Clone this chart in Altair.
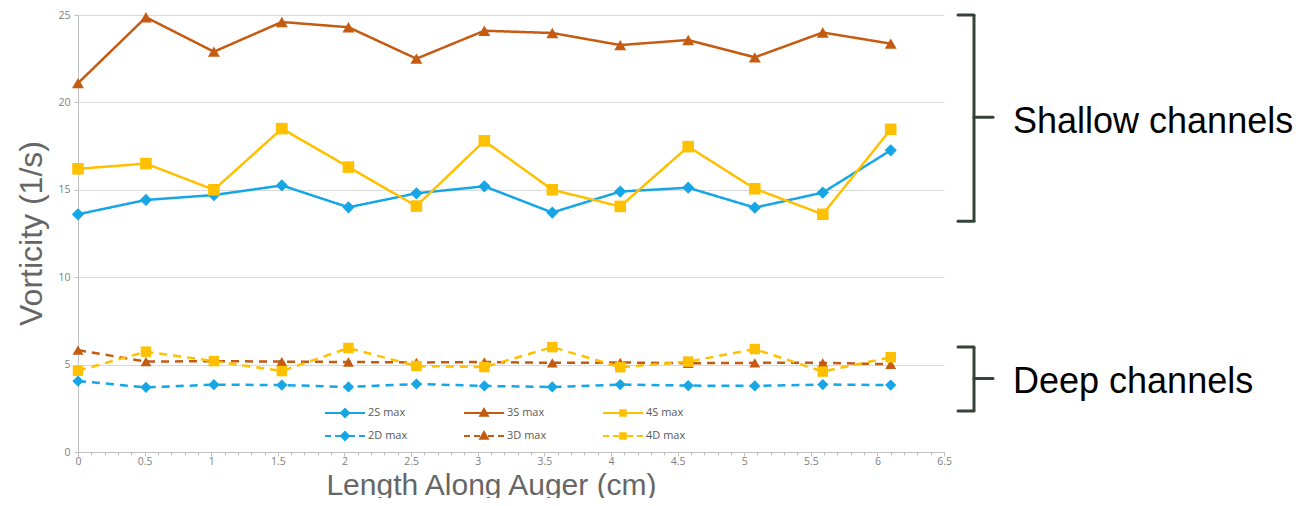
import altair as alt
import pandas as pd

# ---- data ----
x_pos = [0.0, 0.51, 1.02, 1.53, 2.03, 2.54, 3.05, 3.56, 4.07, 4.58, 5.08, 5.59, 6.10]
s2_max = [13.6, 14.42, 14.7, 15.25, 14.0, 14.8, 15.2, 13.7, 14.9, 15.12, 13.98, 14.84, 17.26]
s3_max = [21.1, 24.87, 22.9, 24.6, 24.3, 22.5, 24.1, 23.97, 23.28, 23.57, 22.58, 24.0, 23.36]
s4_max = [16.2, 16.5, 15.0, 18.5, 16.3, 14.07, 17.8, 15.0, 14.05, 17.47, 15.06, 13.6, 18.46]
d2_max = [4.06, 3.7, 3.85, 3.83, 3.72, 3.89, 3.78, 3.72, 3.86, 3.8, 3.78, 3.86, 3.83]
d3_max = [5.83, 5.17, 5.2, 5.17, 5.15, 5.12, 5.15, 5.1, 5.12, 5.08, 5.1, 5.1, 5.02]
d4_max = [4.65, 5.74, 5.2, 4.63, 5.95, 4.92, 4.86, 6.0, 4.85, 5.17, 5.89, 4.6, 5.42]

series_names = ["2S max", "3S max", "4S max", "2D max", "3D max", "4D max"]
series_values = [s2_max, s3_max, s4_max, d2_max, d3_max, d4_max]
series_colors = ["#16A6E6", "#C55A11", "#FFC000", "#16A6E6", "#C55A11", "#FFC000"]
series_dash = [[1, 0], [1, 0], [1, 0], [8, 6], [8, 6], [8, 6]]
series_shapes = ["diamond", "triangle-up", "square", "diamond", "triangle-up", "square"]
series_sizes = [150, 110, 70, 120, 90, 100]

# legend glyphs (line + marker) in Vega's unit symbol box
SOLID = "M-1,0L1,0"
DASHED = "M-1,0L-0.7,0M-0.5,0L-0.2,0M0.2,0L0.5,0M0.7,0L1,0"
DIAMOND = "M0,-0.2L0.2,0L0,0.2L-0.2,0Z"
TRIANGLE = "M0,-0.2L0.19,0.14L-0.19,0.14Z"
SQUARE = "M-0.14,-0.14L0.14,-0.14L0.14,0.14L-0.14,0.14Z"
legend_glyphs = [SOLID + DIAMOND, SOLID + TRIANGLE, SOLID + SQUARE,
                 DASHED + DIAMOND, DASHED + TRIANGLE, DASHED + SQUARE]

x_major = [round(i * 0.5, 1) for i in range(14)]
x_minor = [round(i * 0.1, 1) for i in range(66)]
y_ticks = [0, 5, 10, 15, 20, 25]

# brackets: (top, bottom, middle) in y units; labels with baseline y
brackets = [(25.0, 13.2, 19.15), (6.0, 2.35, 4.2)]
bracket_labels = [("Shallow channels", 18.25), ("Deep channels", 3.37)]

rows = []
for name, vals in zip(series_names, series_values):
    for xv, yv in zip(x_pos, vals):
        rows.append({"x": xv, "y": yv, "series": name})
df = pd.DataFrame(rows)
anno = pd.DataFrame({"k": [0]})

GRID = "#D9D9D9"
LABEL = "#808080"
TITLE = "#666666"

x_scale = alt.Scale(domain=[0, 6.5], nice=False, zero=False)
y_scale = alt.Scale(domain=[0, 25], nice=False)

x_main = alt.X(
    "x:Q",
    scale=x_scale,
    axis=alt.Axis(
        orient="bottom",
        values=x_major,
        format="~g",
        labelOverlap=False,
        labelFlush=False,
        tickSize=4,
        title="Length Along Auger (cm)",
        titleX=413,
        titleY=42,
        titleFontSize=30,
        titleAlign="center",
        titleBaseline="alphabetic",
        labelPadding=0,
    ),
)
y_enc = alt.Y(
    "y:Q",
    scale=y_scale,
    axis=alt.Axis(
        values=y_ticks,
        labelFlush=False,
        tickSize=4,
        labelPadding=4,
        title="Vorticity (1/s)",
        titleX=-37,
        titleY=218,
        titleAlign="center",
        titleBaseline="alphabetic",
    ),
)

lines = alt.Chart(df).mark_line(strokeWidth=2.5).encode(
    x=x_main,
    y=y_enc,
    stroke=alt.Stroke("series:N", scale=alt.Scale(domain=series_names, range=series_colors), legend=None),
    strokeDash=alt.StrokeDash("series:N", scale=alt.Scale(domain=series_names, range=series_dash), legend=None),
    detail="series:N",
)

points = alt.Chart(df).mark_point(filled=True, opacity=1, strokeWidth=0).encode(
    x=alt.X("x:Q", scale=x_scale, axis=None),
    y=alt.Y("y:Q", scale=y_scale),
    fill=alt.Fill("series:N", scale=alt.Scale(domain=series_names, range=series_colors), legend=None),
    shape=alt.Shape("series:N", scale=alt.Scale(domain=series_names, range=series_shapes), legend=None),
    size=alt.Size("series:N", scale=alt.Scale(domain=series_names, range=series_sizes), legend=None),
)

minor = alt.Chart(df).mark_point(opacity=0).encode(
    x=alt.X("x:Q", scale=x_scale, axis=alt.Axis(
        orient="bottom", values=x_minor, labels=False, grid=False, domain=False,
        tickSize=3, title=None)),
    y=alt.Y("y:Q", scale=y_scale),
)

legend_spec = alt.Legend(
    title=None, orient="none", legendX=246, legendY=390, columns=3, direction="horizontal",
    symbolSize=1600, symbolStrokeWidth=2, labelOffset=2,
    labelFontSize=11, labelFont="Open Sans", labelColor="#595959",
    clipHeight=16, rowPadding=7, columnPadding=55, padding=0,
)
legend_layer = alt.Chart(df).transform_filter("false").mark_point(
    filled=True, opacity=1, strokeWidth=2
).encode(
    x=alt.X("x:Q", scale=x_scale, axis=None),
    y=alt.Y("y:Q", scale=y_scale),
    fill=alt.Fill("series:N", scale=alt.Scale(domain=series_names, range=series_colors), legend=legend_spec),
    stroke=alt.Stroke("series:N", scale=alt.Scale(domain=series_names, range=series_colors), legend=legend_spec),
    shape=alt.Shape("series:N", scale=alt.Scale(domain=series_names, range=legend_glyphs), legend=legend_spec),
)

BR = "#34423A"
br_layers = []
for top, bot, mid in brackets:
    br_layers.append(
        alt.Chart(anno).mark_rule(color=BR, strokeWidth=3).encode(
            x=alt.value(896), y=alt.datum(top), y2=alt.datum(bot)))
    for yy in (top, bot):
        br_layers.append(
            alt.Chart(anno).mark_rule(color=BR, strokeWidth=3, strokeCap="round").encode(
                x=alt.value(880), x2=alt.value(896), y=alt.datum(yy)))
    br_layers.append(
        alt.Chart(anno).mark_rule(color=BR, strokeWidth=3, strokeCap="round").encode(
            x=alt.value(896), x2=alt.value(915), y=alt.datum(mid)))
for txt, yb in bracket_labels:
    br_layers.append(
        alt.Chart(anno).mark_text(text=txt, align="left", baseline="alphabetic",
                                  font="Liberation Sans", fontSize=36, color="#000000").encode(
            x=alt.value(935), y=alt.datum(yb)))

chart = alt.layer(minor, lines, points, legend_layer, *br_layers).resolve_axis(
    x="independent"
).resolve_scale(
    shape="independent", fill="independent", stroke="independent"
).properties(
    width=866,
    height=437,
    autosize=alt.AutoSizeParams(type="none"),
    padding={"left": 70, "top": 7, "right": 355, "bottom": 46},
).configure_view(stroke=None).configure_axis(
    gridColor=GRID,
    domainColor="#BFBFBF",
    tickColor="#BFBFBF",
    labelColor=LABEL,
    labelFont="Open Sans",
    labelFontSize=10.5,
    titleColor=TITLE,
    titleFont="Liberation Sans",
    titleFontSize=32,
    titleFontWeight="normal",
)

chart.save("out.html", embed_options={"renderer": "svg", "actions": False})
